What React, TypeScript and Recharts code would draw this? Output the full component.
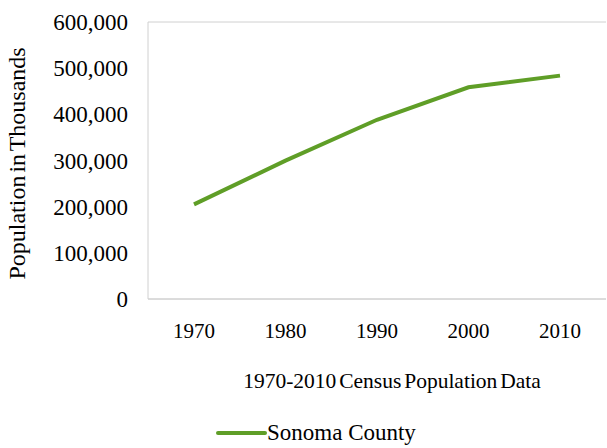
import { LineChart, Line, XAxis, YAxis, CartesianGrid } from 'recharts'

const years = ['1970', '1980', '1990', '2000', '2010']
const sonoma = [204885, 299681, 388222, 458614, 483878]
const yTicks = [0, 100000, 200000, 300000, 400000, 500000, 600000]

const data = years.map((y, i) => ({ year: y, sonoma: sonoma[i] }))

const FONT = '"Liberation Serif", "Times New Roman", serif'
const GREEN = '#5f9e27'
const GRID = '#d0d0d0'

const XTick = ({ x, y, payload }: any) => (
  <text x={x} y={y + 31} textAnchor="middle" fontFamily={FONT} fontSize={21} fill="#000">
    {payload.value}
  </text>
)

const YTick = ({ y, payload }: any) => (
  <text x={128} y={y + 8} textAnchor="end" fontFamily={FONT} fontSize={23} fill="#000">
    {payload.value.toLocaleString('en-US')}
  </text>
)

// axis titles, placed relative to the axis viewBox
const XTitle = ({ viewBox }: any) => (
  <text
    x={viewBox.x + viewBox.width / 2 + 15}
    y={viewBox.y + 89}
    textAnchor="middle"
    fontFamily={FONT}
    fontSize={21.5}
    wordSpacing={-2.5}
    fill="#000"
  >
    1970-2010 Census Population Data
  </text>
)

const YTitle = ({ viewBox }: any) => {
  const cx = 25
  const cy = viewBox.y + viewBox.height / 2 + 3
  return (
    <text
      x={cx}
      y={cy}
      transform={`rotate(-90 ${cx} ${cy})`}
      textAnchor="middle"
      fontFamily={FONT}
      fontSize={24}
      wordSpacing={-3}
      fill="#000"
    >
      Population in Thousands
    </text>
  )
}

export default function App() {
  return (
    <div style={{ position: 'absolute', left: 0, top: 0, width: 607, height: 448, background: '#fff' }}>
      <LineChart width={607} height={448} data={data} margin={{ top: 22, right: 1, left: 0, bottom: 0 }}>
        <CartesianGrid stroke={GRID} vertical={false} horizontal />
        <XAxis
          dataKey="year"
          height={149}
          padding={{ left: 46, right: 46 }}
          axisLine={{ stroke: GRID }}
          tickLine={false}
          tick={<XTick />}
          interval={0}
          label={<XTitle />}
        />
        <YAxis
          yAxisId="left"
          width={148}
          domain={[0, 600000]}
          ticks={yTicks}
          axisLine={{ stroke: GRID }}
          tickLine={false}
          tick={<YTick />}
          label={<YTitle />}
        />
        <YAxis
          yAxisId="right"
          orientation="right"
          width={0}
          domain={[0, 600000]}
          axisLine={{ stroke: GRID }}
          tickLine={false}
          tick={false}
        />
        <Line
          yAxisId="left"
          dataKey="sonoma"
          stroke={GREEN}
          strokeWidth={4}
          dot={false}
          type="linear"
          isAnimationActive={false}
        />
      </LineChart>
      <div
        style={{
          position: 'absolute', left: 216, top: 420,
          display: 'flex', alignItems: 'center',
          fontFamily: FONT, fontSize: 23, color: '#000', whiteSpace: 'nowrap',
        }}
      >
        <svg width={51} height={10}>
          <line x1={2} y1={5} x2={49} y2={5} stroke={GREEN} strokeWidth={4} strokeLinecap="round" />
        </svg>
        <span>Sonoma County</span>
      </div>
    </div>
  )
}
